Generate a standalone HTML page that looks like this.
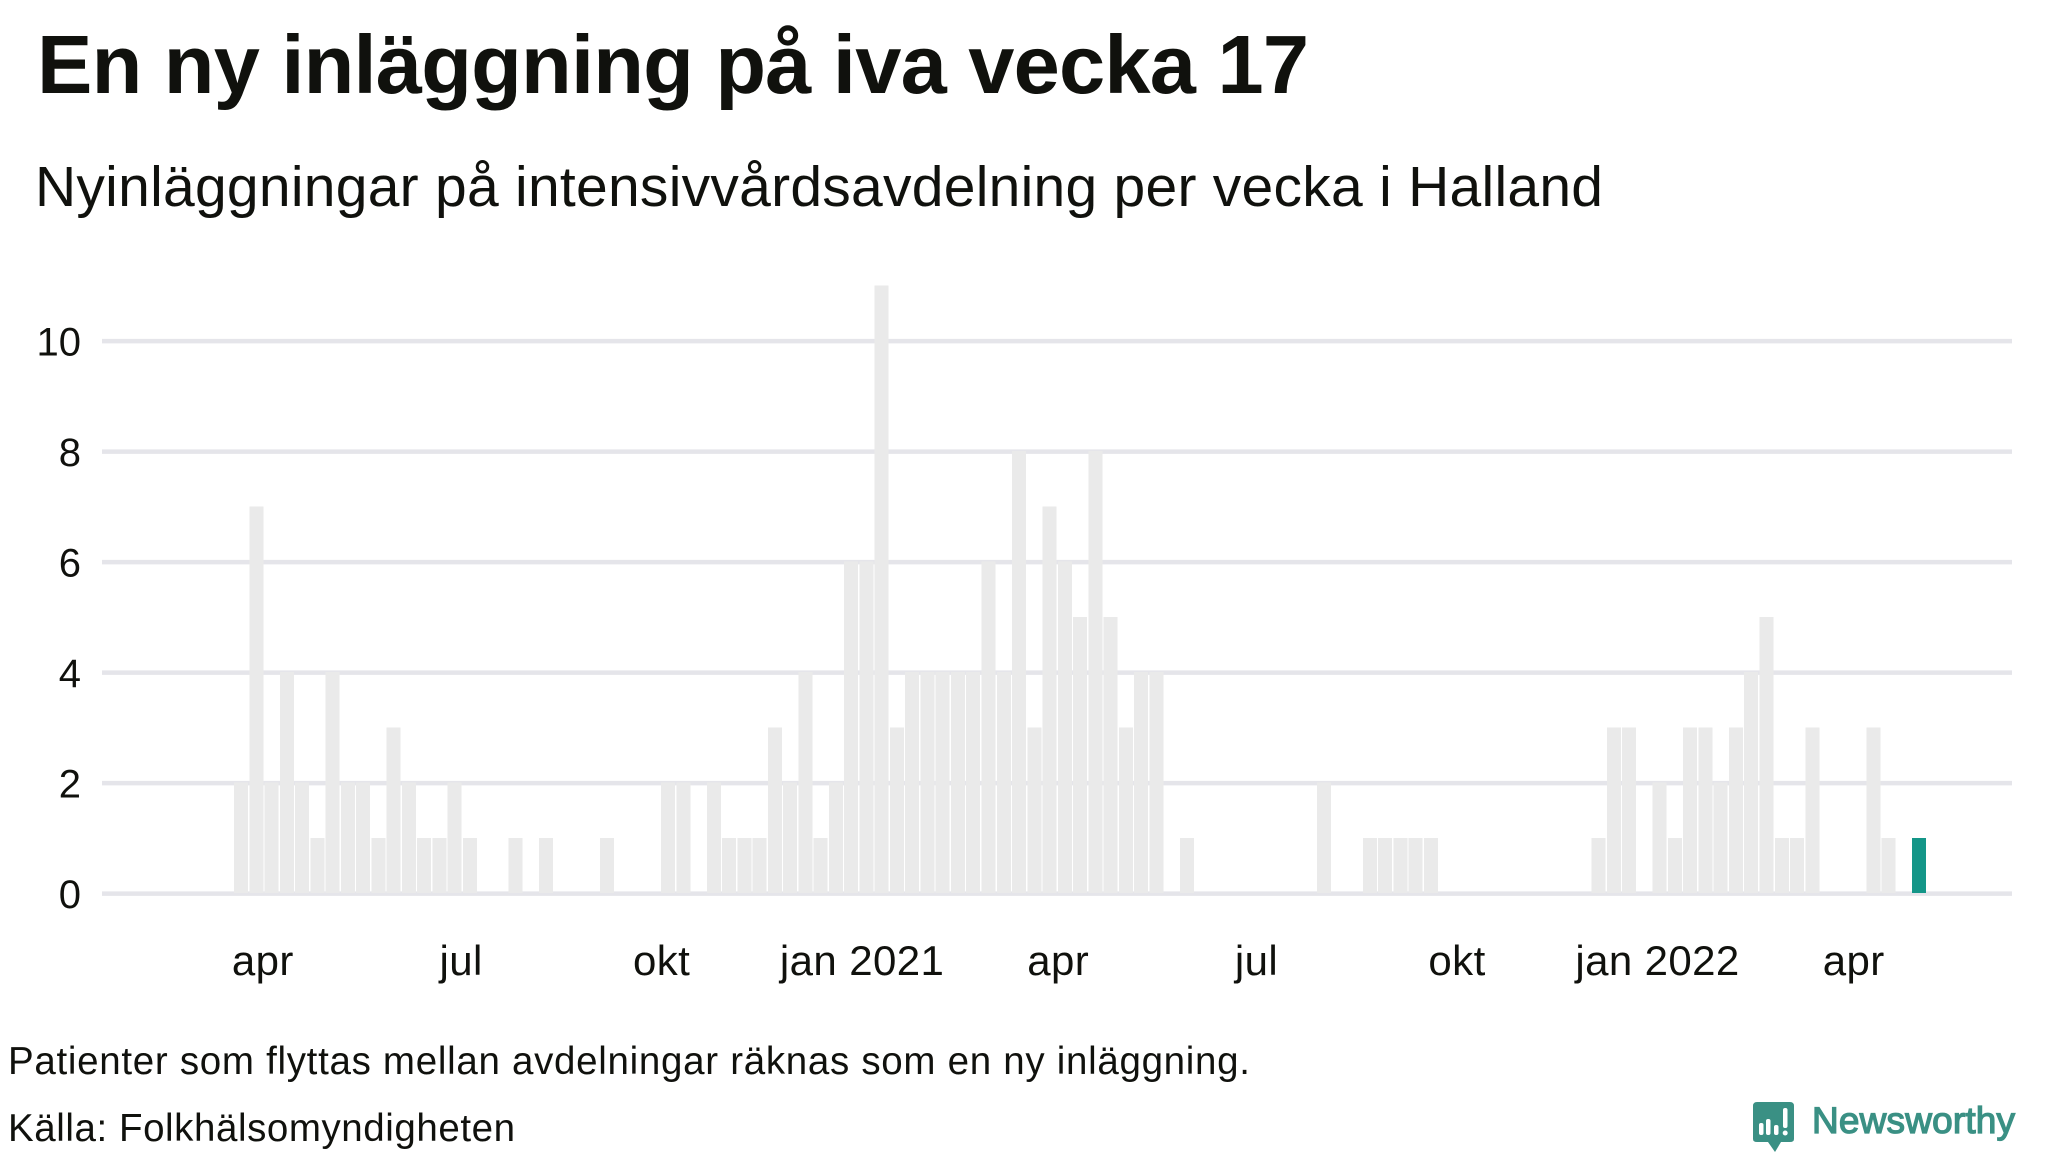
<!DOCTYPE html>
<html lang="sv">
<head>
<meta charset="utf-8">
<title>En ny inläggning på iva vecka 17</title>
<style>
html,body{margin:0;padding:0;background:#fff;width:2048px;height:1152px;overflow:hidden}
svg{display:block}
text{font-family:"Liberation Sans","Noto Sans CJK SC",sans-serif;fill:#10110d}
</style>
</head>
<body>
<svg id="chart" xmlns="http://www.w3.org/2000/svg" width="2048" height="1152" viewBox="0 0 2048 1152">
  <rect width="2048" height="1152" fill="#ffffff"/>
  <text x="37" y="93" font-size="83" font-weight="700" textLength="1272" lengthAdjust="spacing">En ny inläggning på iva vecka 17</text>
  <text x="35" y="206" font-size="57" textLength="1568" lengthAdjust="spacing">Nyinläggningar på intensivvårdsavdelning per vecka i Halland</text>
  <g id="grid"></g>
  <g id="yticks"></g>
  <g id="bars"></g>
  <g id="xticks"></g>
  <text x="8" y="1074" font-size="38.5" textLength="1242" lengthAdjust="spacing">Patienter som flyttas mellan avdelningar räknas som en ny inläggning.</text>
  <text x="8" y="1141" font-size="38.5" textLength="507" lengthAdjust="spacing">Källa: Folkhälsomyndigheten</text>
  <g>
    <path d="M1757 1102H1790Q1794 1102 1794 1106V1139Q1794 1142 1790 1142H1781L1775 1152L1768 1142H1757Q1753 1142 1753 1139V1106Q1753 1102 1757 1102Z" fill="#3a9084"/>
    <rect x="1759" y="1123" width="4.5" height="12" rx="2" fill="#ffffff"/>
    <rect x="1766" y="1119" width="4.5" height="16" rx="2" fill="#ffffff"/>
    <rect x="1774" y="1125" width="4.5" height="10" rx="2" fill="#ffffff"/>
    <rect x="1783" y="1108" width="4.5" height="20" rx="2" fill="#ffffff"/>
    <circle cx="1785.2" cy="1133" r="2.5" fill="#ffffff"/>
    <text x="1812" y="1133" font-size="37" stroke="#3a9084" stroke-width="1.3" textLength="203" lengthAdjust="spacing" style="fill:#3a9084">Newsworthy</text>
  </g>
</svg>
<script>
const categories = [
  "2020-W12","2020-W13","2020-W14","2020-W15","2020-W16","2020-W17","2020-W18","2020-W19","2020-W20","2020-W21",
  "2020-W22","2020-W23","2020-W24","2020-W25","2020-W26","2020-W27","2020-W28","2020-W29","2020-W30","2020-W31",
  "2020-W32","2020-W33","2020-W34","2020-W35","2020-W36","2020-W37","2020-W38","2020-W39","2020-W40","2020-W41",
  "2020-W42","2020-W43","2020-W44","2020-W45","2020-W46","2020-W47","2020-W48","2020-W49","2020-W50","2020-W51",
  "2020-W52","2020-W53","2021-W01","2021-W02","2021-W03","2021-W04","2021-W05","2021-W06","2021-W07","2021-W08",
  "2021-W09","2021-W10","2021-W11","2021-W12","2021-W13","2021-W14","2021-W15","2021-W16","2021-W17","2021-W18",
  "2021-W19","2021-W20","2021-W21","2021-W22","2021-W23","2021-W24","2021-W25","2021-W26","2021-W27","2021-W28",
  "2021-W29","2021-W30","2021-W31","2021-W32","2021-W33","2021-W34","2021-W35","2021-W36","2021-W37","2021-W38",
  "2021-W39","2021-W40","2021-W41","2021-W42","2021-W43","2021-W44","2021-W45","2021-W46","2021-W47","2021-W48",
  "2021-W49","2021-W50","2021-W51","2021-W52","2022-W01","2022-W02","2022-W03","2022-W04","2022-W05","2022-W06",
  "2022-W07","2022-W08","2022-W09","2022-W10","2022-W11","2022-W12","2022-W13","2022-W14","2022-W15","2022-W16",
  "2022-W17"
];
const admissions = [
  2,7,2,4,2,1,4,2,2,1,
  3,2,1,1,2,1,0,0,1,0,
  1,0,0,0,1,0,0,0,2,2,
  0,2,1,1,1,3,2,4,1,2,
  6,6,11,3,4,4,4,4,4,6,
  4,8,3,7,6,5,8,5,3,4,
  4,0,1,0,0,0,0,0,0,0,
  0,2,0,0,1,1,1,1,1,0,
  0,0,0,0,0,0,0,0,0,1,
  3,3,0,2,1,3,3,2,3,4,
  5,1,1,3,0,0,0,3,1,0,
  1
];
const highlightedWeek = "2022-W17";
const firstWeekEnd = "2020-03-22";
const yTickValues = [0,2,4,6,8,10];
const xTickDates = ["2020-04-01","2020-07-01","2020-10-01","2021-01-01","2021-04-01","2021-07-01","2021-10-01","2022-01-01","2022-04-01"];
const xTickLabels = ["apr","jul","okt","jan 2021","apr","jul","okt","jan 2022","apr"];

const SVG_NS = "http://www.w3.org/2000/svg";
const plotLeft = 234, bandStep = 15.255, barWidth = 14;
const baseY = 893, unitY = 55.25;
const gridLeft = 102, gridRight = 2012;

function xBand(i){ return plotLeft + i * bandStep; }
function yScale(v){ return baseY - v * unitY; }
function xDate(d){
  const days = (Date.parse(d) - Date.parse(firstWeekEnd)) / 86400000;
  return xBand(days / 7) + barWidth / 2;
}

const gridG = document.getElementById("grid");
const yG = document.getElementById("yticks");
yTickValues.forEach(function(v){
  const line = document.createElementNS(SVG_NS, "line");
  
  
  line.setAttribute("x1", gridLeft);
  line.setAttribute("x2", gridRight);
  line.setAttribute("y1", yScale(v) + 0.6);
  line.setAttribute("y2", yScale(v) + 0.6);
  line.setAttribute("stroke", "#e5e5ea");
  line.setAttribute("stroke-width", "4.5");
  gridG.appendChild(line);
  const t = document.createElementNS(SVG_NS, "text");
  
  
  t.setAttribute("x", 81);
  t.setAttribute("y", yScale(v) + 15);
  t.setAttribute("text-anchor", "end");
  t.setAttribute("font-size", "40");
  t.textContent = String(v);
  yG.appendChild(t);
});

const barsG = document.getElementById("bars");
admissions.forEach(function(v, i){
  if (v <= 0) return;
  const r = document.createElementNS(SVG_NS, "rect");
  
  
  r.setAttribute("x", xBand(i));
  r.setAttribute("y", yScale(v));
  r.setAttribute("width", barWidth);
  r.setAttribute("height", baseY - yScale(v));
  r.setAttribute("shape-rendering", "crispEdges");
  r.setAttribute("fill", categories[i] === highlightedWeek ? "#149688" : "#eaeaea");
  const tip = document.createElementNS(SVG_NS, "title");
  tip.textContent = categories[i] + ": " + v;
  r.appendChild(tip);
  barsG.appendChild(r);
});

const xG = document.getElementById("xticks");
xTickDates.forEach(function(d, i){
  const t = document.createElementNS(SVG_NS, "text");
  
  
  t.setAttribute("x", xDate(d));
  t.setAttribute("y", 975);
  t.setAttribute("text-anchor", "middle");
  t.setAttribute("font-size", "42");
  t.setAttribute("letter-spacing", "0.4");
  t.textContent = xTickLabels[i];
  xG.appendChild(t);
});
</script>
</body>
</html>
